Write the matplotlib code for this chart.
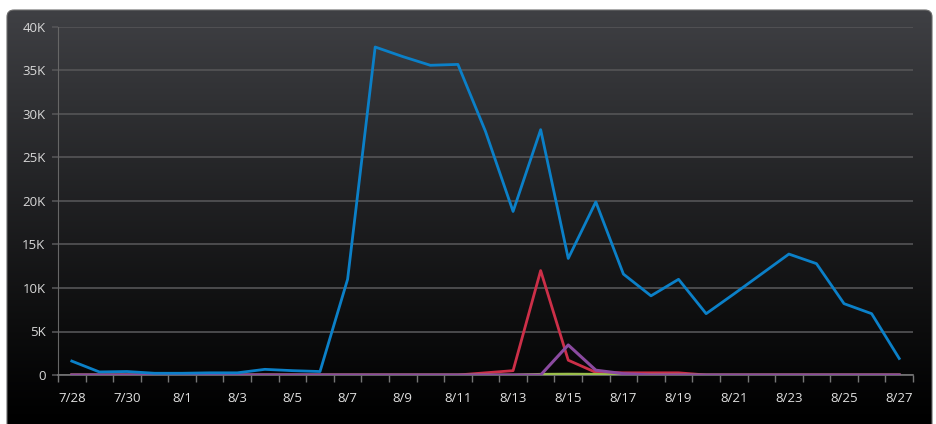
"""Daily traffic by source, dark dashboard style (matplotlib, Agg backend)."""
import matplotlib

matplotlib.use("Agg")
import matplotlib.pyplot as plt  # noqa: E402
import numpy as np  # noqa: E402
from matplotlib.patches import FancyBboxPatch  # noqa: E402
from matplotlib.ticker import FuncFormatter  # noqa: E402

dates = ["7/28", "7/29", "7/30", "7/31", "8/1", "8/2", "8/3", "8/4", "8/5", "8/6",
         "8/7", "8/8", "8/9", "8/10", "8/11", "8/12", "8/13", "8/14", "8/15", "8/16",
         "8/17", "8/18", "8/19", "8/20", "8/21", "8/22", "8/23", "8/24", "8/25", "8/26",
         "8/27"]

blue = [1600, 350, 400, 200, 200, 250, 250, 650, 500, 400,
        11000, 37700, 36600, 35600, 35700, 28000, 18800, 28200, 13400, 19900,
        11600, 9100, 11000, 7050, 9300, 11600, 13900, 12800, 8200, 7050,
        1900]
red = [0, 0, 0, 0, 0, 0, 0, 0, 0, 0,
       0, 0, 0, 0, 0, 250, 500, 12000, 1700, 300,
       250, 250, 250, 0, 0, 0, 0, 0, 0, 0,
       0]
green = [0, 0, 0, 0, 0, 0, 0, 0, 0, 0,
         0, 0, 0, 0, 0, 0, 0, 80, 100, 80,
         0, 0, 0, 0, 0, 0, 0, 0, 0, 0,
         0]
purple = [0, 0, 0, 0, 0, 0, 0, 0, 0, 0,
          0, 0, 0, 0, 0, 0, 0, 0, 3450, 550,
          150, 0, 0, 0, 0, 0, 0, 0, 0, 0,
          0]

W, H = 936, 424
fig = plt.figure(figsize=(W / 100, H / 100), dpi=100)
fig.patch.set_facecolor("white")

# dark panel with vertical gradient and rounded corners
bg = fig.add_axes([0, 0, 1, 1], zorder=0)
bg.set_xlim(0, W)
bg.set_ylim(H, 0)
bg.axis("off")
panel = FancyBboxPatch((7, 10), 925, 440, boxstyle="round,pad=0,rounding_size=7",
                       facecolor="none", edgecolor="#6a6a6a", lw=0.8, zorder=2)
bg.add_patch(panel)
grad = np.linspace(0, 1, 256).reshape(-1, 1)
top = np.array([0x3f, 0x40, 0x44]) / 255
img = top[None, None, :] * (1 - grad[:, :, None]) ** 1.1
im = bg.imshow(img, extent=(7, 932, 424, 10), aspect="auto", zorder=1)
im.set_clip_path(panel)

ax = fig.add_axes([58 / W, 1 - 375 / H, (913 - 58) / W, (375 - 27) / H], zorder=1)
ax.patch.set_alpha(0)
x = np.arange(len(dates))

ax.plot(x, red, color="#cc2f48", lw=2, zorder=3)
ax.plot(x, green, color="#9bbf4c", lw=2, zorder=3)
ax.plot(x, purple, color="#8b4aa0", lw=2.2, zorder=4)
ax.plot(x, blue, color="#0b80c8", lw=2, zorder=5)

ax.set_xlim(-0.5, len(dates) - 0.5)
ax.set_ylim(0, 40000)
ax.set_yticks(np.arange(0, 40001, 5000))
ax.yaxis.set_major_formatter(FuncFormatter(lambda v, p: "0" if v == 0 else f"{int(v / 1000)}K"))
ax.grid(axis="y", color="#555557", lw=1.2)
ax.set_axisbelow(True)

ax.set_xticks(np.arange(-0.5, len(dates)), minor=False)
ax.set_xticklabels([])
ax.set_xticks(x[::2], minor=True)
ax.set_xticklabels(dates[::2], minor=True)
ax.tick_params(axis="x", which="major", length=5, color="#777777", width=1)
ax.tick_params(axis="x", which="minor", length=0, pad=12, labelsize=9.5, labelcolor="#e0e0e0")
ax.tick_params(axis="y", length=4, color="#555557", width=1.2, labelsize=9.5,
               labelcolor="#d8d8d8", pad=5)

for s in ["top", "right"]:
    ax.spines[s].set_visible(False)
ax.spines["left"].set_color("#666666")
ax.spines["bottom"].set_color("#777777")
ax.spines["bottom"].set_linewidth(1.2)

for lbl in ax.get_xticklabels(minor=True) + ax.get_yticklabels():
    lbl.set_family(["Open Sans", "DejaVu Sans"])

fig.savefig("out.png", dpi=100)
plt.close(fig)
